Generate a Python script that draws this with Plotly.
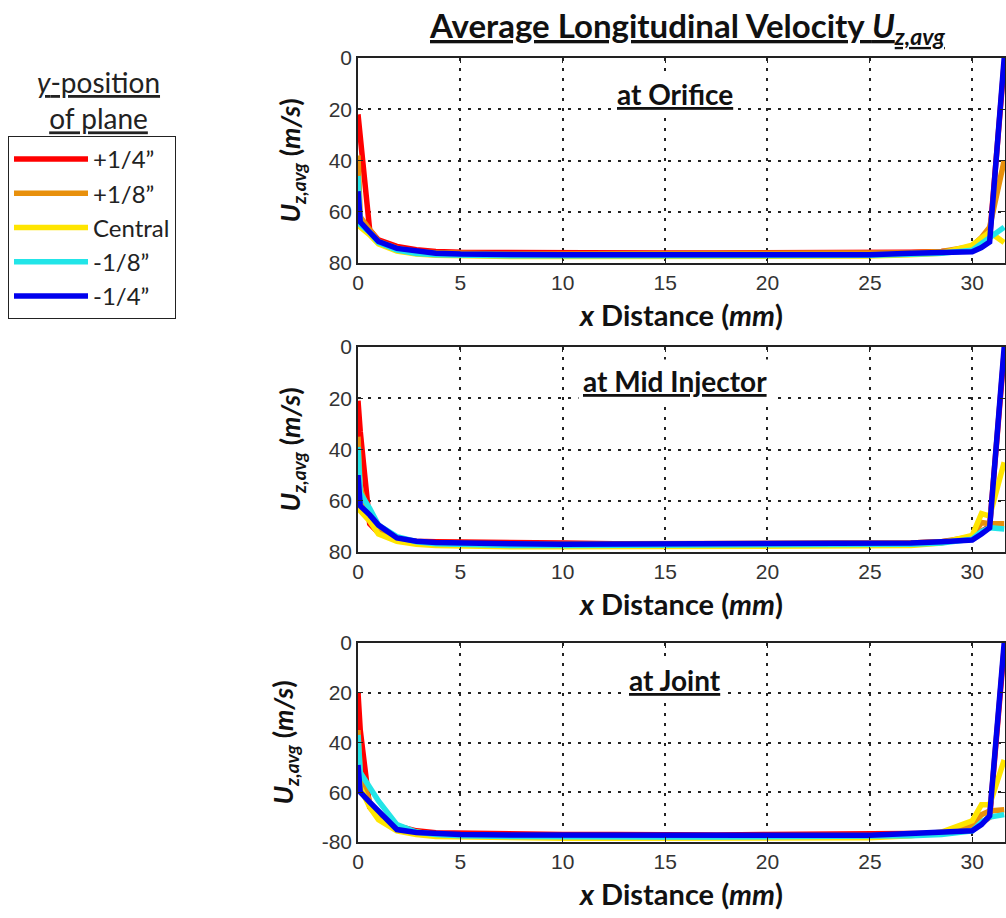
import plotly.graph_objects as go

# ---------------- data ----------------
x_mm = [0, 0.11, 0.57, 1.0, 1.9, 2.85, 3.8, 5, 7.5, 10, 12.5, 15, 17.5, 20,
        22.5, 25, 27, 28.5, 30, 30.45, 30.85, 31.56]

series_names = ["+1/4\u201d", "+1/8\u201d", "Central", "-1/8\u201d", "-1/4\u201d"]
series_colors = ["#FF0000", "#E8900C", "#FFE500", "#22E5E8", "#0000EE"]

panel_titles = ["at Orifice", "at Mid Injector", "at Joint"]

# at Orifice
orifice_p14 = [22, 31, 67, 71, 73.5, 74.8, 75.5, 75.8, 76, 76, 76, 76.1, 76.1, 76.1, 76, 76, 75.8, 75.5, 74.5, 72, 70, 2]
orifice_p18 = [38, 62, 67, 71.5, 74.2, 75.5, 76, 76.3, 76.5, 76.5, 76.5, 76.5, 76.5, 76.5, 76.5, 76.4, 76, 75.5, 73.5, 70, 66, 40]
orifice_c = [58, 66, 69, 72.5, 75.3, 76.5, 77, 77.3, 77.5, 77.5, 77.5, 77.5, 77.5, 77.5, 77.5, 77.3, 76.8, 76.2, 73, 70, 68, 72]
orifice_m18 = [46, 65, 68, 72, 75, 76.3, 76.8, 77, 77.2, 77.2, 77.2, 77.2, 77.2, 77.2, 77.2, 77, 76.6, 76.2, 75, 72.5, 70, 66]
orifice_m14 = [52, 64, 68, 71.6, 74.3, 75.5, 76.2, 76.5, 76.8, 76.8, 76.8, 76.8, 76.8, 76.8, 76.8, 76.8, 76.2, 75.8, 75.6, 74, 71.8, 0]

# at Mid Injector
mid_p14 = [21, 33, 69, 72.5, 75, 75.8, 76, 76, 76.2, 76.5, 76.8, 76.8, 76.8, 76.8, 76.5, 76.5, 76.5, 76, 75, 72, 70, 2]
mid_p18 = [35, 55, 66, 71, 74.5, 76, 76.5, 76.8, 77, 77, 77, 77, 77, 77, 77, 76.8, 76.5, 76, 74, 68.5, 69, 69]
mid_c = [60, 64, 68, 73, 75.8, 77, 77.5, 77.8, 78, 78, 78, 78, 78, 78, 78, 78, 77.5, 76.5, 73.5, 65, 66, 45]
mid_m18 = [39, 57, 63, 69.5, 74, 76, 76.8, 77.2, 77.5, 77.5, 77.5, 77.5, 77.5, 77.5, 77.5, 77.3, 77, 76.5, 75, 72, 70.5, 71]
mid_m14 = [50, 62, 65.5, 69.5, 74.5, 75.8, 76.3, 76.6, 76.8, 77, 77, 77, 77, 77, 77, 77, 76.5, 76, 75.3, 73, 70.6, 0]

# at Joint
joint_p14 = [20, 35, 66, 70, 73.5, 75.5, 76.3, 76.5, 76.8, 77, 77, 77.2, 77.2, 77, 77, 77, 76.8, 76.5, 75, 72, 70, 2]
joint_p18 = [35, 52, 64, 69, 74, 76, 77, 77.3, 77.5, 77.8, 77.8, 77.8, 77.8, 77.8, 77.8, 77.8, 77.3, 76.5, 73.5, 69, 67.5, 67]
joint_c = [48, 58, 66, 71, 75.5, 77, 77.8, 78, 78.3, 78.5, 78.5, 78.5, 78.5, 78.5, 78.5, 78.3, 77.5, 76, 71.5, 65, 65, 47]
joint_m18 = [37, 52, 58, 63.5, 73, 76, 77, 77.5, 77.8, 78, 78, 78, 78, 78, 78, 78, 77.5, 77, 75.5, 72, 70, 69]
joint_m14 = [49, 60, 64, 67.7, 75, 76.2, 76.7, 77, 77.2, 77.3, 77.3, 77.5, 77.5, 77.3, 77.3, 77.3, 76.8, 76.3, 75.5, 73, 69.5, 0]

panels = [
    [orifice_p14, orifice_p18, orifice_c, orifice_m18, orifice_m14],
    [mid_p14, mid_p18, mid_c, mid_m18, mid_m14],
    [joint_p14, joint_p18, joint_c, joint_m18, joint_m14],
]

y_tickvals = [0, 20, 40, 60, 80]
y_ticktext = [["0", "20", "40", "60", "80"],
              ["0", "20", "40", "60", "80"],
              ["0", "20", "40", "60", "-80"]]
x_tickvals = [0, 5, 10, 15, 20, 25, 30]

# ---------------- layout geometry ----------------
W, H = 1006, 918
x_dom = [358 / W, 1005 / W]
y_doms = [[1 - 263 / H, 1 - 58 / H],
          [1 - 552 / H, 1 - 347 / H],
          [1 - 842 / H, 1 - 643 / H]]
title_y_px = [94, 381, 680]

fig = go.Figure()

FONT = "Lato, Open Sans, sans-serif"
tick_font = dict(family="Liberation Sans, Arial, sans-serif", size=21, color="#333333")
label_font = dict(family=FONT, size=29, color="#111111")

for p, (vals, tt) in enumerate(zip(panels, y_ticktext)):
    xa = "x" if p == 0 else f"x{p+1}"
    ya = "y" if p == 0 else f"y{p+1}"
    for name, col, yv in zip(series_names, series_colors, vals):
        fig.add_trace(go.Scatter(
            x=x_mm, y=yv, mode="lines", name=name,
            line=dict(color=col, width=5.5),
            legendgroup=name, showlegend=(p == 0),
            xaxis=xa, yaxis=ya,
        ))
    suffix = "" if p == 0 else str(p + 1)
    fig.layout["xaxis" + suffix] = dict(
        domain=x_dom, anchor=ya, range=[0, 31.6], automargin=False,
        tickvals=x_tickvals, ticks="inside", ticklen=5, tickcolor="#222",
        showline=True, linecolor="#222", linewidth=1.5, mirror="ticks",
        showgrid=True, gridcolor="#222", griddash="3px,7px", gridwidth=2,
        zeroline=False, tickfont=tick_font,
        title=dict(text="<b><i>x</i> Distance (<i>mm</i>)</b>", font=label_font, standoff=13),
    )
    fig.layout["yaxis" + suffix] = dict(
        domain=y_doms[p], anchor=xa, range=[80, 0], automargin=False,
        tickvals=y_tickvals, ticktext=tt, ticks="inside", ticklen=5, tickcolor="#222",
        showline=True, linecolor="#222", linewidth=1.5, mirror="ticks",
        showgrid=True, gridcolor="#222", griddash="3px,7px", gridwidth=2,
        zeroline=False, tickfont=tick_font,
        title=dict(text="<b><i>U</i><sub><i>z,avg</i></sub> (<i>m/s</i>)</b>",
                   font=dict(family=FONT, size=27, color="#111111"),
                   standoff=20),
    )

annotations = []
for p, t in enumerate(panel_titles):
    annotations.append(dict(
        text=f"<b><u>{t}</u></b>", x=675 / W, y=1 - title_y_px[p] / H,
        xref="paper", yref="paper", showarrow=False, xanchor="center", yanchor="middle",
        font=dict(family=FONT, size=28, color="#111"),
        bgcolor="white", borderpad=4,
    ))
annotations.append(dict(
    text="<b><u>Average Longitudinal Velocity <i>U</i><sub><i>z,avg</i></sub></u></b>",
    x=687 / W, y=1 - 28 / H, xref="paper", yref="paper", showarrow=False,
    xanchor="center", yanchor="middle",
    font=dict(family=FONT, size=33, color="#111"),
))
annotations.append(dict(
    text="<u><i>y</i>-position</u><br><u>of plane</u>",
    x=98 / W, y=1 - 100 / H, xref="paper", yref="paper", showarrow=False,
    xanchor="center", yanchor="middle", align="center",
    font=dict(family=FONT, size=28, color="#222"),
))

fig.update_layout(
    width=W, height=H,
    margin=dict(l=0, r=0, t=0, b=0, autoexpand=False),
    paper_bgcolor="white", plot_bgcolor="white",
    annotations=annotations,
    showlegend=True,
    legend=dict(
        x=8 / W, y=1 - 136 / H, xanchor="left", yanchor="top",
        bordercolor="#222", borderwidth=1, bgcolor="white",
        font=dict(family=FONT, size=24, color="#222"),
        traceorder="grouped", tracegroupgap=0, itemwidth=74,
    ),
)

fig.write_html(
    "out.html",
    config={"displayModeBar": False},
    post_script="document.body.style.margin='0';document.body.style.overflow='hidden';",
)
